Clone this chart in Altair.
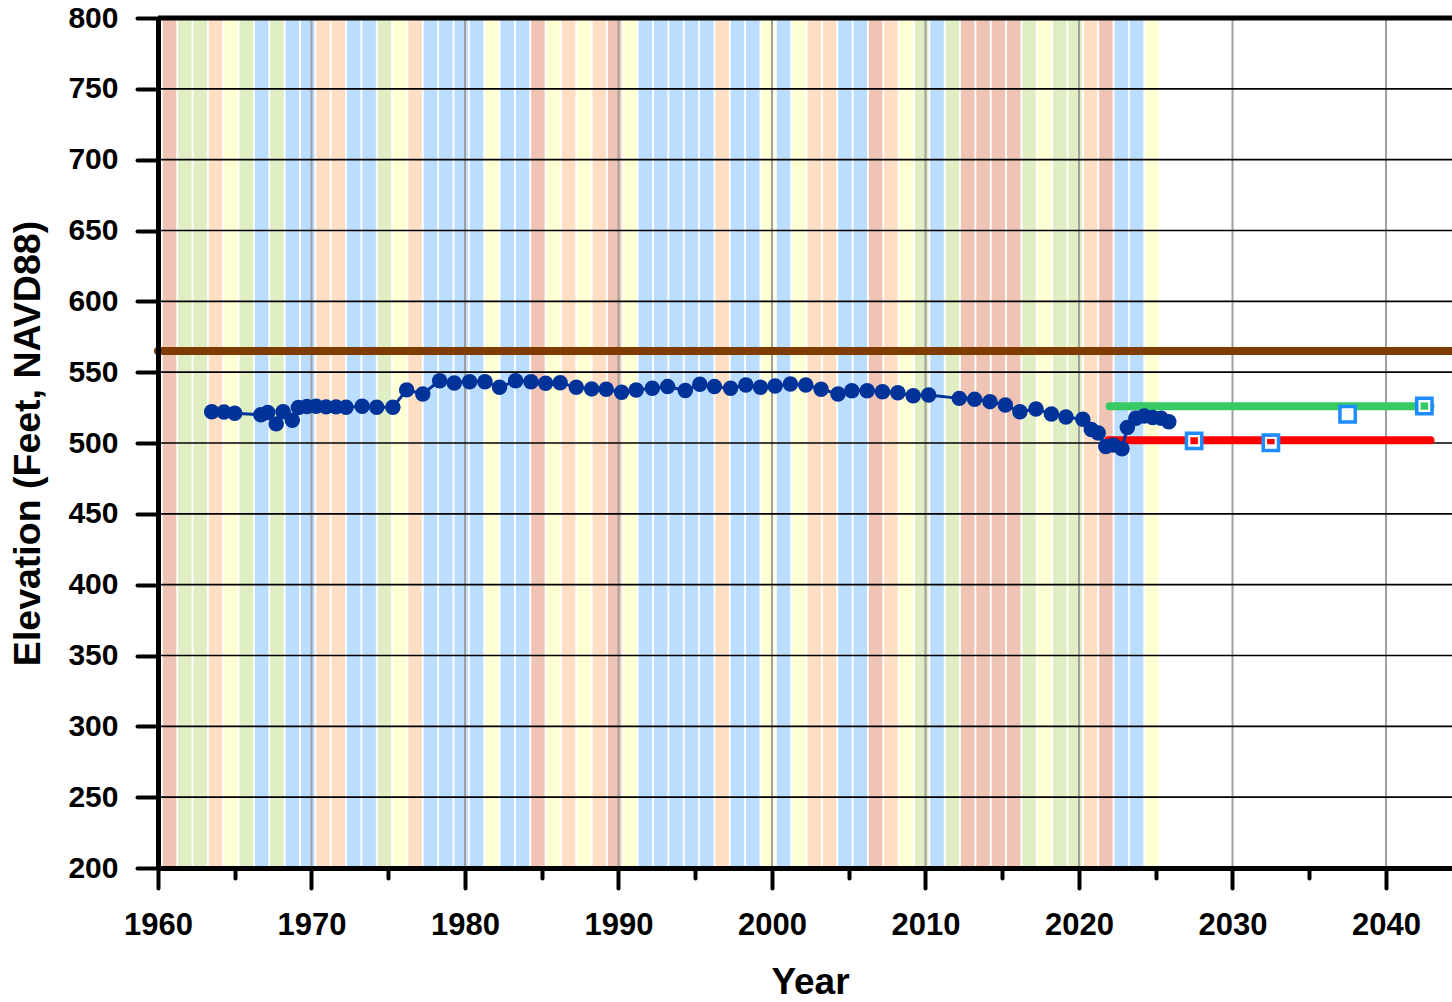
import altair as alt
import pandas as pd

FONT = "Liberation Sans"

# Water-year classification for each year (band colours), 1960-2024
band_years = list(range(1960, 2025))
band_types = [
    "C", "AN", "AN", "D", "BN", "AN", "W", "AN", "W", "W",    # 1960-1969
    "D", "D", "W", "W", "AN", "BN", "D", "W", "W", "W",       # 1970-1979
    "W", "BN", "W", "W", "C", "BN", "D", "BN", "D", "C",      # 1980-1989
    "BN", "W", "W", "W", "W", "W", "D", "W", "W", "BN",       # 1990-1999
    "W", "BN", "D", "D", "W", "W", "C", "D", "BN", "AN",      # 2000-2009
    "W", "AN", "C", "C", "C", "C", "AN", "BN", "AN", "AN",    # 2010-2019
    "D", "C", "W", "W", "BN",                                 # 2020-2024
]
type_names = ["W", "AN", "BN", "D", "C"]
type_colors = ["#BBDDFF", "#E0EEC4", "#FFFFD4", "#FFDFC4", "#F0C4B4"]

# Measured groundwater elevation (feet, NAVD88)
obs_year = [
    1963.5, 1964.3, 1965.0, 1966.7, 1967.15, 1967.7, 1968.15, 1968.75, 1969.15, 1969.7,
    1970.3, 1970.95, 1971.6, 1972.25, 1973.3, 1974.25, 1975.3, 1976.2, 1977.25, 1978.35,
    1979.3, 1980.3, 1981.3, 1982.25, 1983.3, 1984.3, 1985.25, 1986.2, 1987.25, 1988.25,
    1989.2, 1990.2, 1991.15, 1992.2, 1993.2, 1994.35, 1995.3, 1996.25, 1997.3, 1998.3,
    1999.25, 2000.2, 2001.2, 2002.2, 2003.2, 2004.3, 2005.2, 2006.2, 2007.2, 2008.2,
    2009.2, 2010.2, 2012.2, 2013.2, 2014.2, 2015.2, 2016.15, 2017.2, 2018.2, 2019.15,
    2020.25, 2020.8, 2021.25, 2021.75, 2022.25, 2022.8, 2023.15, 2023.7, 2024.25, 2024.8,
    2025.35, 2025.85,
]
obs_elev = [
    522.0, 521.8, 521.0, 520.0, 521.5, 513.5, 522.0, 516.0, 525.0, 525.8,
    526.0, 525.5, 525.5, 525.3, 526.0, 525.3, 525.3, 537.5, 534.6, 544.0,
    542.3, 543.3, 543.3, 539.3, 544.0, 543.3, 542.2, 542.6, 539.3, 538.2,
    537.9, 535.8, 537.4, 538.6, 539.8, 537.0, 541.4, 539.8, 538.6, 541.0,
    539.3, 540.2, 541.6, 541.0, 537.9, 534.6, 536.9, 536.9, 536.2, 535.5,
    533.4, 533.9, 531.5, 530.8, 529.2, 526.8, 522.1, 524.0, 520.5, 518.4,
    516.7, 509.5, 507.0, 497.5, 498.5, 496.0, 511.0, 517.4, 519.0, 518.0,
    517.4, 515.0,
]

# Ground-surface reference level
ground_level = [565]

# Threshold levels carried forward
seg_names = ["upper", "lower"]
seg_start = [2022.0, 2021.9]
seg_end = [2042.9, 2042.9]
seg_value = [526, 502]
seg_colors = ["#36C964", "#FF0000"]

# Interim milestone markers
ms_year = [2027.5, 2032.5, 2037.5, 2042.5]
ms_elev = [501.5, 500.2, 520.3, 526.1]

# Axis tick positions
major_years = list(range(1960, 2041, 10))
minor_years = list(range(1965, 2040, 10))
grid_years = list(range(1970, 2041, 10))
y_ticks = list(range(200, 801, 50))
y_grid = list(range(250, 751, 50))

X_SCALE = alt.Scale(domain=[1960, 2044.3], nice=False, zero=False)
Y_SCALE = alt.Scale(domain=[200, 800], nice=False, zero=False)

bands = pd.DataFrame({"year": band_years, "type": band_types})
obs = pd.DataFrame({"year": obs_year, "elev": obs_elev})
segs = pd.DataFrame({"name": seg_names, "start": seg_start, "end": seg_end, "value": seg_value})
ms = pd.DataFrame({"year": ms_year, "elev": ms_elev})

x_major_axis = alt.Axis(
    values=major_years, format="d", orient="bottom", grid=False, zindex=1,
    domainColor="black", domainWidth=5,
    tickColor="black", tickWidth=4, tickSize=20, tickCap="round",
    labelFont=FONT, labelFontSize=31, labelFontWeight="bold", labelColor="black",
    labelPadding=22, labelFlush=False, labelOverlap=False,
    title="Year", titleFont=FONT, titleFontSize=37, titleFontWeight="bold",
    titleColor="black", titleX=652, titleY=125, titleBaseline="alphabetic",
    titleAlign="center",
)
x_minor_axis = alt.Axis(
    values=minor_years, orient="bottom", grid=False, zindex=1, domain=False,
    labels=False, tickColor="black", tickWidth=4, tickSize=10, tickCap="round",
    title=None,
)
y_axis = alt.Axis(
    values=y_ticks, orient="left", grid=False, zindex=1,
    domainColor="black", domainWidth=5,
    tickColor="black", tickWidth=4, tickSize=21, tickCap="round",
    labelFont=FONT, labelFontSize=30, labelFontWeight="bold", labelColor="black",
    labelPadding=19, labelFlush=False, labelOverlap=False,
    title="Elevation (Feet, NAVD88)", titleFont=FONT, titleFontSize=37.5,
    titleFontWeight="bold", titleColor="black", titleAngle=270,
    titleX=-130, titleY=425, titleAlign="center", titleBaseline="middle",
)

band_layer = alt.Chart(bands).transform_calculate(
    x0="datum.year + 0.31", x1="datum.year + 1.19"
).mark_rect().encode(
    x=alt.X("x0:Q", scale=X_SCALE, axis=x_major_axis),
    x2="x1:Q",
    y=alt.datum(200, scale=Y_SCALE, axis=y_axis),
    y2=alt.datum(800),
    color=alt.Color("type:N", scale=alt.Scale(domain=type_names, range=type_colors), legend=None),
)

vgrid = alt.Chart(pd.DataFrame({"year": grid_years})).mark_rule(
    color="#A0A0A0", strokeWidth=2
).encode(x=alt.X("year:Q", scale=X_SCALE, axis=x_minor_axis))

hgrid = alt.Chart(pd.DataFrame({"elev": y_grid})).mark_rule(
    color="black", strokeWidth=1.6
).encode(y=alt.Y("elev:Q", scale=Y_SCALE, axis=None))

top_border = alt.Chart(pd.DataFrame({"elev": [800]})).mark_rule(
    color="black", strokeWidth=5
).encode(y=alt.Y("elev:Q", scale=Y_SCALE, axis=None))

ground = alt.Chart(pd.DataFrame({"elev": ground_level})).mark_rule(
    color="#7F3C00", strokeWidth=8, strokeCap="round"
).encode(y=alt.Y("elev:Q", scale=Y_SCALE, axis=None))

thresholds = alt.Chart(segs).mark_rule(strokeWidth=8, strokeCap="round").encode(
    x=alt.X("start:Q", scale=X_SCALE, axis=None),
    x2="end:Q",
    y=alt.Y("value:Q", scale=Y_SCALE, axis=None),
    color=alt.Color("name:N", scale=alt.Scale(domain=seg_names, range=seg_colors), legend=None),
)

obs_line = alt.Chart(obs).mark_line(color="#003399", strokeWidth=3).encode(
    x=alt.X("year:Q", scale=X_SCALE, axis=None),
    y=alt.Y("elev:Q", scale=Y_SCALE, axis=None),
)
obs_pts = alt.Chart(obs).mark_circle(color="#003399", size=240, opacity=1).encode(
    x=alt.X("year:Q", scale=X_SCALE, axis=None),
    y=alt.Y("elev:Q", scale=Y_SCALE, axis=None),
)

ms_inner = alt.Chart(ms).mark_point(
    shape="square", filled=False, color="white", strokeWidth=2.5, size=100, opacity=1
).encode(
    x=alt.X("year:Q", scale=X_SCALE, axis=None),
    y=alt.Y("elev:Q", scale=Y_SCALE, axis=None),
)
ms_outer = alt.Chart(ms).mark_point(
    shape="square", filled=False, color="#1E8CFF", strokeWidth=3.5, size=235, opacity=1
).encode(
    x=alt.X("year:Q", scale=X_SCALE, axis=None),
    y=alt.Y("elev:Q", scale=Y_SCALE, axis=None),
)

chart = alt.layer(
    band_layer, vgrid, hgrid, top_border, ground, thresholds,
    obs_line, obs_pts, ms_inner, ms_outer,
).resolve_axis(
    x="independent", y="independent"
).resolve_scale(
    color="independent"
).properties(
    width=1294, height=850,
    autosize=alt.AutoSizeParams(type="none"),
    padding={"left": 158, "top": 18, "right": 0, "bottom": 134},
    background="white",
).configure_view(stroke=None)

chart.save("out.html", embed_options={"renderer": "svg", "actions": False})
